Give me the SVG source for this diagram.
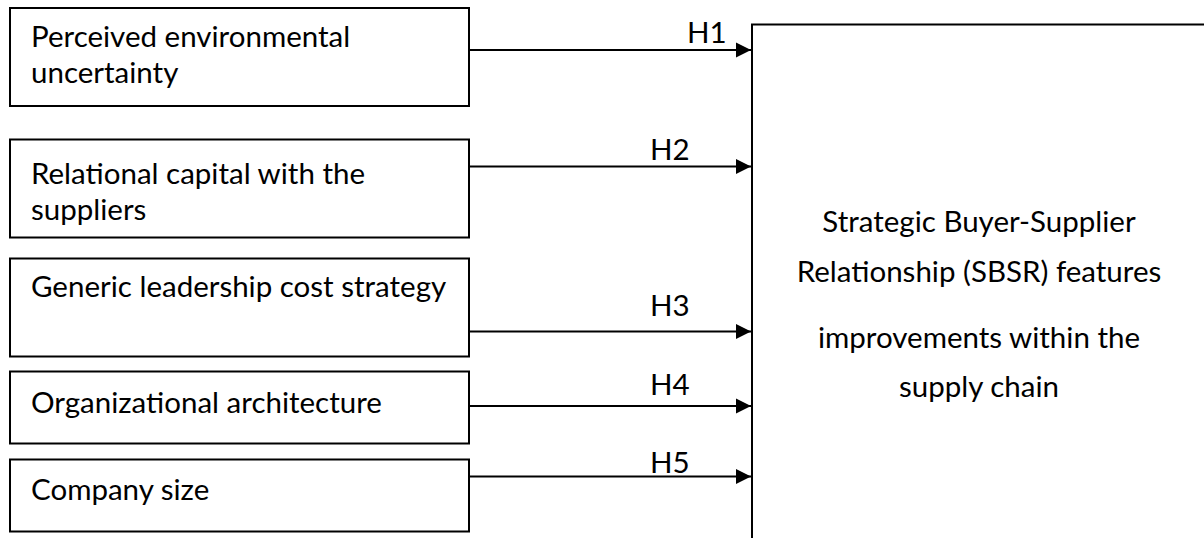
<svg xmlns="http://www.w3.org/2000/svg" width="1204" height="538" viewBox="0 0 1204 538">
<style>
.box{fill:#fff;stroke:#000;stroke-width:2}
.t{font-family:Lato,"Open Sans","Liberation Sans",sans-serif;font-size:29.5px;fill:#000}
.c{text-anchor:middle}
.conn line{stroke:#000;stroke-width:2}
</style>
<defs>
<marker id="ah" markerUnits="userSpaceOnUse" markerWidth="16" markerHeight="16" viewBox="0 0 16 16" refX="15" refY="8" orient="auto">
<path d="M0,0.6 L15,8 L0,15.4 Z" fill="#000"/>
</marker>
</defs>
<rect width="1204" height="538" fill="#fff"/>
<g id="n1"><rect class="box" x="10" y="8" width="459" height="98"/><text class="t" x="31" y="47">Perceived environmental</text><text class="t" x="31" y="83">uncertainty</text></g>
<g id="n2"><rect class="box" x="10" y="139.5" width="459" height="98"/><text class="t" x="31" y="184">Relational capital with the</text><text class="t" x="31" y="220">suppliers</text></g>
<g id="n3"><rect class="box" x="10" y="258.5" width="459" height="98"/><text class="t" x="31" y="297">Generic leadership cost strategy</text></g>
<g id="n4"><rect class="box" x="10" y="371.5" width="459" height="72"/><text class="t" x="31" y="413">Organizational architecture</text></g>
<g id="n5"><rect class="box" x="10" y="459.5" width="459" height="72"/><text class="t" x="31" y="500">Company size</text></g>
<g id="target"><rect class="box" x="752" y="24.5" width="600" height="600"/>
<text class="t c" x="979" y="232">Strategic Buyer-Supplier</text>
<text class="t c" x="979" y="282">Relationship (SBSR) features</text>
<text class="t c" x="979" y="348">improvements within the</text>
<text class="t c" x="979" y="397">supply chain</text></g>
<g id="connectors" class="conn">
<line x1="469" y1="50" x2="751" y2="50" marker-end="url(#ah)"/>
<line x1="469" y1="166.5" x2="751" y2="166.5" marker-end="url(#ah)"/>
<line x1="469" y1="331.5" x2="751" y2="331.5" marker-end="url(#ah)"/>
<line x1="469" y1="406" x2="751" y2="406" marker-end="url(#ah)"/>
<line x1="469" y1="476.5" x2="751" y2="476.5" marker-end="url(#ah)"/>
<text class="t" x="687" y="43">H1</text>
<text class="t" x="650" y="160">H2</text>
<text class="t" x="650" y="316">H3</text>
<text class="t" x="650" y="395">H4</text>
<text class="t" x="650" y="473">H5</text>
</g>
</svg>
